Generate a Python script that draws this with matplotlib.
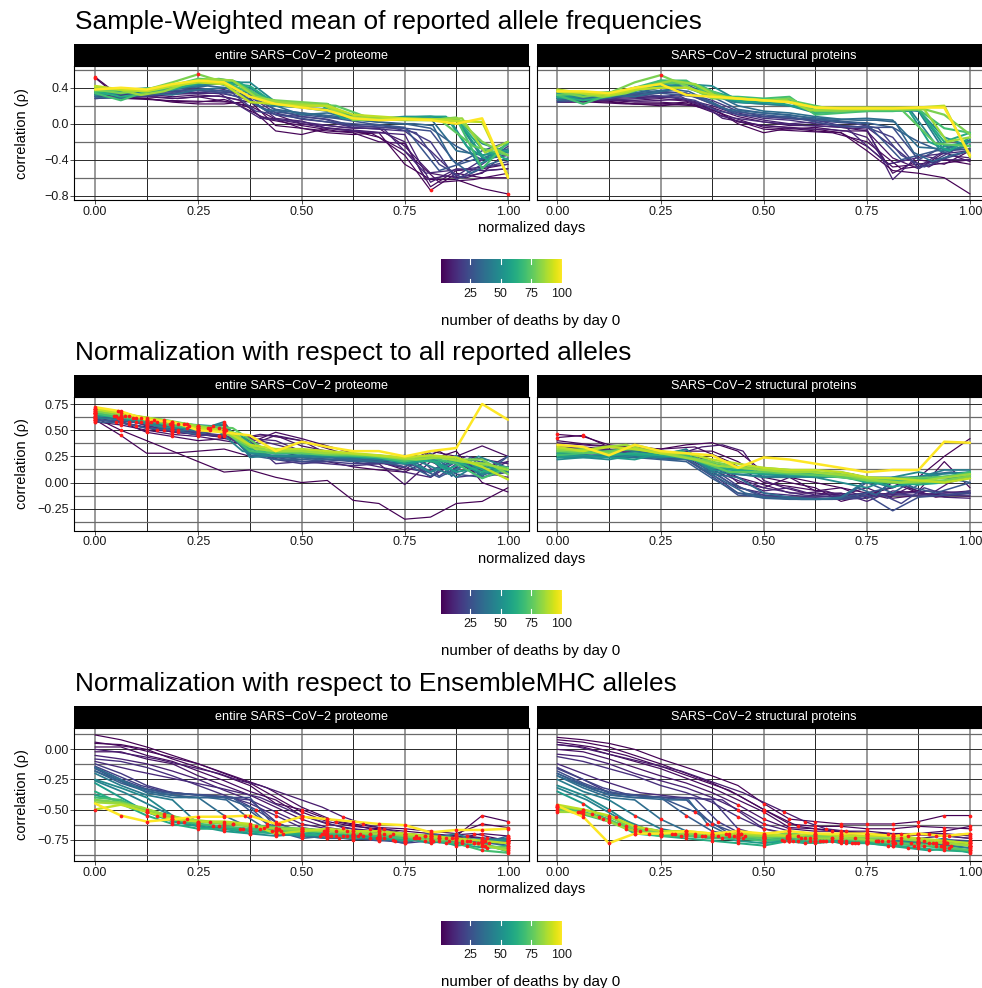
import numpy as np
import matplotlib
matplotlib.use("Agg")
import matplotlib.pyplot as plt
from matplotlib.colors import Normalize
from matplotlib.cm import ScalarMappable

plt.rcParams['font.family'] = ['Liberation Sans', 'DejaVu Sans']

# ---------------------------------------------------------------- data
# one entry per country: deaths by day 0; every country's series runs from its
# day 0 to its last day, so normalized days = day / last day
deaths_day0 = [1, 2, 4, 6, 10, 14, 18, 24, 30, 36, 42, 48, 55, 62, 70, 80, 90, 100,
               3, 8, 12, 20, 27, 33, 45, 58, 75, 85]

# Sample-weighted mean of reported allele frequencies
sw_proteome = [
    [0.52, 0.30, 0.28, 0.24, 0.22, 0.22, 0.25, -0.02, -0.05, -0.10, -0.12, -0.10, -0.45, -0.62, -0.62, -0.72, -0.78],
    [0.51, 0.28, 0.28, 0.25, 0.24, 0.27, 0.18, -0.08, -0.12, -0.05, -0.08, -0.15, -0.35, -0.74, -0.55, -0.60, -0.60],
    [0.32, 0.30, 0.30, 0.28, 0.30, 0.25, 0.20, 0.05, -0.05, -0.08, -0.10, -0.20, -0.22, -0.70, -0.52, -0.50, -0.45],
    [0.36, 0.34, 0.33, 0.30, 0.32, 0.30, 0.24, 0.10, 0.00, -0.02, -0.05, -0.05, -0.25, -0.55, -0.60, -0.55, -0.30],
    [0.30, 0.32, 0.34, 0.33, 0.35, 0.33, 0.28, 0.06, 0.03, -0.05, -0.08, -0.10, -0.12, -0.65, -0.50, -0.52, -0.50],
    [0.40, 0.36, 0.35, 0.36, 0.34, 0.38, 0.30, 0.12, 0.05, 0.02, -0.04, -0.06, -0.08, -0.30, -0.58, -0.40, -0.35],
    [0.34, 0.33, 0.37, 0.35, 0.40, 0.36, 0.32, 0.15, 0.08, 0.05, -0.02, -0.04, -0.05, -0.20, -0.62, -0.45, -0.25],
    [0.28, 0.30, 0.31, 0.34, 0.37, 0.34, 0.26, 0.10, 0.06, 0.02, 0.00, -0.02, -0.05, -0.08, -0.45, -0.30, -0.20],
    [0.35, 0.36, 0.33, 0.38, 0.42, 0.45, 0.30, 0.16, 0.12, 0.08, 0.05, 0.02, 0.00, -0.05, -0.25, -0.40, -0.22],
    [0.30, 0.28, 0.34, 0.32, 0.38, 0.40, 0.34, 0.20, 0.10, 0.12, 0.06, 0.04, 0.05, 0.06, -0.30, -0.35, -0.28],
    [0.38, 0.36, 0.38, 0.40, 0.42, 0.46, 0.40, 0.22, 0.18, 0.14, 0.08, 0.06, 0.06, 0.08, 0.05, -0.38, -0.30],
    [0.32, 0.34, 0.36, 0.40, 0.44, 0.46, 0.46, 0.24, 0.22, 0.20, 0.06, 0.06, 0.08, 0.08, 0.06, -0.22, -0.32],
    [0.40, 0.38, 0.36, 0.42, 0.46, 0.44, 0.36, 0.25, 0.20, 0.22, 0.05, 0.04, 0.06, 0.05, 0.06, -0.35, -0.30],
    [0.36, 0.30, 0.34, 0.38, 0.45, 0.46, 0.42, 0.22, 0.22, 0.20, 0.05, 0.05, 0.05, 0.05, 0.05, -0.28, -0.40],
    [0.34, 0.26, 0.36, 0.40, 0.48, 0.46, 0.35, 0.24, 0.22, 0.22, 0.06, 0.05, 0.05, 0.05, 0.06, -0.50, -0.20],
    [0.38, 0.34, 0.38, 0.46, 0.55, 0.46, 0.30, 0.26, 0.24, 0.22, 0.04, 0.05, 0.04, 0.04, 0.07, -0.20, -0.35],
    [0.42, 0.38, 0.36, 0.42, 0.46, 0.44, 0.24, 0.22, 0.20, 0.20, 0.10, 0.08, 0.06, 0.05, 0.03, 0.02, -0.58],
    [0.38, 0.40, 0.38, 0.44, 0.48, 0.46, 0.30, 0.22, 0.18, 0.15, 0.06, 0.04, 0.05, 0.04, 0.00, 0.06, -0.60],
    [0.30, 0.28, 0.26, 0.25, 0.24, 0.05, -0.02, -0.08, -0.10, -0.30, -0.65, -0.62, -0.55],
    [0.33, 0.32, 0.30, 0.30, 0.28, 0.30, 0.31, 0.26, 0.08, 0.04, 0.00, -0.04, -0.06, -0.08, -0.10, -0.20, -0.62, -0.58, -0.60, -0.52, -0.50],
    [0.28, 0.30, 0.33, 0.34, 0.06, 0.02, -0.04, -0.06, -0.55, -0.50, -0.45],
    [0.36, 0.34, 0.33, 0.35, 0.38, 0.36, 0.34, 0.14, 0.10, 0.08, 0.05, -0.02, -0.03, -0.05, -0.10, -0.45, -0.60, -0.48, -0.42],
    [0.32, 0.34, 0.36, 0.38, 0.36, 0.14, 0.10, 0.06, 0.00, -0.04, -0.52, -0.40, -0.35],
    [0.34, 0.33, 0.34, 0.36, 0.38, 0.40, 0.42, 0.40, 0.30, 0.16, 0.14, 0.12, 0.10, 0.08, 0.04, 0.02, 0.00, 0.00, -0.02, -0.40, -0.55, -0.45, -0.38],
    [0.36, 0.38, 0.40, 0.42, 0.46, 0.38, 0.20, 0.18, 0.16, 0.06, 0.06, 0.05, 0.06, -0.45, -0.30],
    [0.34, 0.36, 0.38, 0.40, 0.44, 0.48, 0.50, 0.46, 0.30, 0.22, 0.22, 0.20, 0.06, 0.06, 0.06, 0.07, 0.08, 0.08, -0.25, -0.40, -0.22],
    [0.36, 0.38, 0.40, 0.50, 0.48, 0.26, 0.22, 0.20, 0.06, 0.05, 0.05, -0.25, -0.35],
    [0.40, 0.38, 0.32, 0.36, 0.45, 0.50, 0.48, 0.30, 0.24, 0.22, 0.20, 0.08, 0.06, 0.05, 0.05, 0.05, 0.06, -0.32, -0.20],
]
sw_structural = [
    [0.28, 0.26, 0.25, 0.22, 0.20, 0.22, 0.18, 0.00, -0.10, -0.05, -0.08, -0.10, -0.30, -0.52, -0.55, -0.60, -0.78],
    [0.24, 0.25, 0.24, 0.22, 0.22, 0.24, 0.16, 0.02, -0.02, -0.04, -0.06, -0.10, -0.25, -0.48, -0.45, -0.40, -0.45],
    [0.30, 0.28, 0.26, 0.24, 0.24, 0.22, 0.15, 0.05, -0.04, -0.06, -0.04, -0.08, -0.08, -0.55, -0.40, -0.45, -0.30],
    [0.32, 0.28, 0.27, 0.26, 0.28, 0.25, 0.18, 0.08, 0.02, -0.02, -0.02, -0.04, -0.08, -0.38, -0.50, -0.32, -0.42],
    [0.26, 0.27, 0.28, 0.29, 0.30, 0.27, 0.20, 0.10, 0.04, 0.00, 0.02, -0.04, -0.06, -0.62, -0.35, -0.40, -0.40],
    [0.34, 0.30, 0.30, 0.31, 0.30, 0.33, 0.22, 0.12, 0.06, 0.04, 0.00, -0.02, -0.04, -0.25, -0.48, -0.30, -0.28],
    [0.28, 0.30, 0.32, 0.30, 0.35, 0.34, 0.26, 0.14, 0.08, 0.06, 0.04, -0.02, -0.04, -0.15, -0.50, -0.35, -0.20],
    [0.24, 0.26, 0.28, 0.33, 0.36, 0.34, 0.24, 0.10, 0.08, 0.08, 0.02, -0.03, -0.04, -0.04, -0.40, -0.25, -0.30],
    [0.30, 0.32, 0.30, 0.34, 0.40, 0.44, 0.30, 0.16, 0.12, 0.10, 0.05, 0.02, 0.01, -0.04, -0.20, -0.32, -0.24],
    [0.26, 0.28, 0.32, 0.30, 0.36, 0.40, 0.34, 0.20, 0.14, 0.12, 0.08, 0.05, 0.06, 0.04, -0.26, -0.28, -0.18],
    [0.32, 0.30, 0.34, 0.40, 0.44, 0.46, 0.34, 0.24, 0.22, 0.20, 0.12, 0.14, 0.14, 0.16, 0.14, -0.30, -0.24],
    [0.28, 0.30, 0.33, 0.38, 0.42, 0.44, 0.42, 0.26, 0.24, 0.24, 0.14, 0.15, 0.16, 0.18, 0.15, -0.15, -0.25],
    [0.34, 0.32, 0.30, 0.40, 0.42, 0.40, 0.30, 0.26, 0.24, 0.28, 0.15, 0.16, 0.16, 0.16, 0.16, -0.25, -0.20],
    [0.30, 0.26, 0.30, 0.36, 0.48, 0.46, 0.36, 0.28, 0.26, 0.26, 0.12, 0.14, 0.14, 0.16, 0.15, -0.20, -0.10],
    [0.32, 0.22, 0.32, 0.40, 0.48, 0.48, 0.30, 0.30, 0.28, 0.30, 0.10, 0.12, 0.14, 0.14, 0.16, -0.05, -0.10],
    [0.36, 0.30, 0.34, 0.46, 0.54, 0.42, 0.28, 0.28, 0.26, 0.28, 0.14, 0.14, 0.16, 0.16, 0.18, 0.10, -0.12],
    [0.38, 0.34, 0.32, 0.38, 0.40, 0.40, 0.32, 0.28, 0.26, 0.24, 0.18, 0.18, 0.18, 0.18, 0.18, 0.20, -0.37],
    [0.36, 0.36, 0.34, 0.40, 0.44, 0.32, 0.30, 0.28, 0.26, 0.24, 0.18, 0.17, 0.17, 0.17, 0.18, 0.18, -0.35],
    [0.24, 0.24, 0.22, 0.22, 0.20, 0.06, -0.06, -0.08, -0.10, -0.20, -0.50, -0.45, -0.40],
    [0.28, 0.27, 0.26, 0.26, 0.25, 0.26, 0.27, 0.22, 0.06, 0.02, -0.02, -0.04, -0.06, -0.06, -0.08, -0.15, -0.45, -0.40, -0.48, -0.35, -0.38],
    [0.25, 0.26, 0.28, 0.30, 0.08, 0.02, -0.02, -0.04, -0.45, -0.35, -0.30],
    [0.30, 0.28, 0.28, 0.30, 0.32, 0.30, 0.26, 0.14, 0.10, 0.08, 0.06, 0.04, 0.02, 0.00, -0.05, -0.35, -0.48, -0.38, -0.30],
    [0.28, 0.30, 0.32, 0.34, 0.30, 0.14, 0.10, 0.06, 0.04, 0.00, -0.40, -0.30, -0.28],
    [0.28, 0.29, 0.30, 0.32, 0.34, 0.36, 0.38, 0.36, 0.26, 0.16, 0.14, 0.12, 0.10, 0.08, 0.06, 0.05, 0.04, 0.04, 0.02, -0.32, -0.42, -0.35, -0.30],
    [0.30, 0.32, 0.34, 0.38, 0.42, 0.36, 0.24, 0.22, 0.20, 0.14, 0.14, 0.15, 0.14, -0.30, -0.20],
    [0.30, 0.32, 0.34, 0.36, 0.40, 0.44, 0.46, 0.42, 0.30, 0.24, 0.24, 0.22, 0.16, 0.15, 0.16, 0.16, 0.16, 0.16, -0.20, -0.30, -0.15],
    [0.32, 0.34, 0.36, 0.46, 0.44, 0.28, 0.26, 0.24, 0.16, 0.15, 0.16, -0.22, -0.25],
    [0.36, 0.34, 0.30, 0.34, 0.42, 0.48, 0.44, 0.30, 0.28, 0.26, 0.26, 0.15, 0.16, 0.16, 0.17, 0.16, 0.16, -0.20, -0.15],
]

# Normalization with respect to all reported alleles
all_proteome = [
    [0.62, 0.50, 0.40, 0.30, 0.20, 0.10, 0.12, 0.05, 0.00, 0.02, -0.17, -0.20, -0.35, -0.33, -0.20, -0.18, -0.05],
    [0.60, 0.45, 0.28, 0.28, 0.30, 0.32, 0.25, 0.30, 0.25, 0.20, 0.15, 0.12, 0.10, 0.22, 0.30, 0.00, -0.09],
    [0.66, 0.58, 0.48, 0.44, 0.40, 0.42, 0.38, 0.48, 0.42, 0.35, 0.28, 0.20, 0.12, 0.30, 0.25, 0.35, 0.25],
    [0.58, 0.55, 0.50, 0.46, 0.44, 0.40, 0.36, 0.45, 0.35, 0.30, 0.22, 0.18, -0.02, 0.20, 0.10, 0.15, 0.20],
    [0.64, 0.60, 0.55, 0.48, 0.46, 0.44, 0.42, 0.40, 0.30, 0.28, 0.20, 0.15, 0.10, 0.05, 0.25, 0.10, 0.05],
    [0.68, 0.62, 0.54, 0.50, 0.48, 0.45, 0.40, 0.18, 0.20, 0.18, 0.16, 0.18, 0.25, 0.05, 0.20, 0.12, 0.25],
    [0.60, 0.58, 0.52, 0.50, 0.45, 0.46, 0.30, 0.22, 0.18, 0.20, 0.18, 0.18, 0.20, 0.25, 0.05, 0.08, 0.15],
    [0.62, 0.60, 0.56, 0.52, 0.48, 0.50, 0.28, 0.24, 0.20, 0.22, 0.20, 0.20, 0.15, 0.28, 0.08, 0.05, 0.10],
    [0.58, 0.57, 0.52, 0.50, 0.46, 0.52, 0.26, 0.22, 0.22, 0.24, 0.22, 0.20, 0.18, 0.06, 0.25, 0.06, 0.25],
    [0.65, 0.62, 0.56, 0.50, 0.50, 0.55, 0.26, 0.25, 0.24, 0.25, 0.22, 0.20, 0.26, 0.10, 0.26, 0.05, 0.12],
    [0.62, 0.60, 0.58, 0.54, 0.50, 0.58, 0.24, 0.26, 0.25, 0.24, 0.24, 0.22, 0.20, 0.25, 0.05, 0.20, 0.10],
    [0.66, 0.63, 0.56, 0.52, 0.52, 0.56, 0.28, 0.25, 0.26, 0.26, 0.24, 0.25, 0.22, 0.10, 0.20, 0.08, 0.14],
    [0.64, 0.62, 0.58, 0.55, 0.52, 0.50, 0.30, 0.28, 0.28, 0.26, 0.26, 0.24, 0.18, 0.22, 0.10, 0.15, 0.12],
    [0.70, 0.64, 0.58, 0.56, 0.54, 0.52, 0.32, 0.30, 0.30, 0.28, 0.26, 0.25, 0.22, 0.20, 0.20, 0.10, 0.14],
    [0.66, 0.62, 0.60, 0.54, 0.52, 0.50, 0.30, 0.28, 0.30, 0.28, 0.26, 0.24, 0.20, 0.24, 0.18, 0.04, 0.14],
    [0.68, 0.64, 0.60, 0.56, 0.54, 0.48, 0.34, 0.30, 0.30, 0.28, 0.27, 0.26, 0.22, 0.25, 0.22, 0.22, 0.08],
    [0.70, 0.66, 0.62, 0.58, 0.52, 0.50, 0.36, 0.32, 0.32, 0.30, 0.28, 0.26, 0.24, 0.26, 0.24, 0.15, 0.03],
    [0.72, 0.68, 0.60, 0.58, 0.50, 0.48, 0.45, 0.30, 0.39, 0.34, 0.30, 0.30, 0.25, 0.30, 0.33, 0.75, 0.60],
    [0.62, 0.56, 0.50, 0.46, 0.42, 0.45, 0.40, 0.30, 0.22, 0.15, 0.30, 0.10, 0.15],
    [0.60, 0.58, 0.54, 0.50, 0.48, 0.46, 0.44, 0.42, 0.46, 0.44, 0.40, 0.30, 0.26, 0.22, 0.20, 0.18, 0.28, 0.08, 0.22, 0.10, 0.20],
    [0.66, 0.58, 0.50, 0.44, 0.40, 0.30, 0.22, 0.18, 0.10, 0.25, 0.18],
    [0.64, 0.62, 0.58, 0.55, 0.52, 0.50, 0.48, 0.30, 0.22, 0.20, 0.20, 0.22, 0.20, 0.18, 0.26, 0.06, 0.22, 0.08, 0.12],
    [0.60, 0.58, 0.54, 0.50, 0.48, 0.26, 0.22, 0.24, 0.22, 0.20, 0.05, 0.22, 0.10],
    [0.66, 0.64, 0.62, 0.58, 0.56, 0.54, 0.52, 0.50, 0.30, 0.26, 0.24, 0.24, 0.22, 0.22, 0.20, 0.20, 0.18, 0.18, 0.26, 0.06, 0.24, 0.08, 0.15],
    [0.68, 0.64, 0.60, 0.56, 0.54, 0.30, 0.26, 0.26, 0.25, 0.24, 0.22, 0.20, 0.08, 0.25, 0.14],
    [0.66, 0.64, 0.62, 0.58, 0.56, 0.54, 0.52, 0.46, 0.30, 0.28, 0.28, 0.26, 0.26, 0.24, 0.24, 0.20, 0.25, 0.12, 0.20, 0.10, 0.12],
    [0.70, 0.64, 0.60, 0.54, 0.52, 0.30, 0.28, 0.26, 0.26, 0.22, 0.24, 0.18, 0.14],
    [0.70, 0.68, 0.62, 0.58, 0.56, 0.52, 0.48, 0.32, 0.30, 0.30, 0.28, 0.28, 0.26, 0.24, 0.22, 0.24, 0.20, 0.18, 0.12],
]
all_structural = [
    [0.46, 0.44, 0.36, 0.34, 0.32, 0.36, 0.38, 0.30, 0.10, 0.05, 0.00, -0.05, -0.10, -0.05, 0.05, 0.25, 0.42],
    [0.43, 0.45, 0.34, 0.30, 0.28, 0.30, 0.30, 0.20, 0.05, 0.00, -0.05, -0.18, -0.12, -0.10, -0.08, 0.20, -0.05],
    [0.38, 0.36, 0.34, 0.32, 0.30, 0.28, 0.20, 0.00, -0.05, 0.05, -0.08, -0.05, -0.15, 0.00, -0.10, -0.12, -0.13],
    [0.36, 0.34, 0.32, 0.30, 0.28, 0.30, 0.18, 0.05, -0.02, -0.10, -0.10, -0.12, -0.05, -0.15, -0.12, -0.10, -0.08],
    [0.34, 0.32, 0.30, 0.28, 0.30, 0.26, 0.12, 0.02, -0.08, -0.05, -0.12, -0.10, -0.18, -0.08, -0.10, -0.14, -0.15],
    [0.32, 0.30, 0.30, 0.28, 0.26, 0.24, 0.10, -0.05, -0.10, -0.12, -0.14, -0.12, -0.10, -0.12, -0.12, -0.10, -0.10],
    [0.30, 0.30, 0.28, 0.26, 0.24, 0.22, 0.08, -0.10, -0.12, -0.14, -0.15, -0.16, -0.15, -0.10, -0.13, -0.12, -0.12],
    [0.28, 0.28, 0.27, 0.26, 0.24, 0.22, 0.06, -0.12, -0.14, -0.15, -0.16, -0.16, -0.12, -0.27, -0.14, -0.12, -0.10],
    [0.26, 0.26, 0.26, 0.24, 0.22, 0.20, 0.04, -0.10, -0.15, -0.16, -0.16, -0.15, 0.00, -0.10, 0.05, 0.05, 0.00],
    [0.24, 0.25, 0.26, 0.24, 0.24, 0.28, 0.08, 0.05, -0.10, -0.14, -0.16, -0.14, 0.02, -0.05, 0.05, 0.05, 0.05],
    [0.26, 0.26, 0.24, 0.30, 0.26, 0.32, 0.10, 0.08, 0.05, 0.05, 0.06, 0.10, 0.05, 0.05, 0.05, 0.12, 0.12],
    [0.22, 0.24, 0.22, 0.26, 0.24, 0.26, 0.12, 0.10, 0.08, 0.06, 0.05, 0.00, -0.05, 0.05, 0.10, 0.05, 0.05],
    [0.24, 0.26, 0.24, 0.22, 0.28, 0.26, 0.14, 0.12, 0.10, 0.08, 0.06, 0.05, 0.02, -0.04, 0.00, 0.02, 0.08],
    [0.28, 0.30, 0.26, 0.28, 0.26, 0.24, 0.16, 0.12, 0.10, 0.10, 0.08, 0.06, 0.00, 0.00, -0.02, 0.00, 0.06],
    [0.26, 0.28, 0.30, 0.32, 0.28, 0.26, 0.18, 0.14, 0.12, 0.12, 0.10, 0.06, 0.05, 0.02, 0.02, 0.05, 0.10],
    [0.30, 0.32, 0.28, 0.36, 0.30, 0.24, 0.20, 0.15, 0.14, 0.12, 0.10, 0.08, 0.02, 0.00, 0.00, 0.02, 0.06],
    [0.34, 0.30, 0.34, 0.32, 0.28, 0.28, 0.22, 0.18, 0.14, 0.12, 0.12, 0.10, 0.05, 0.04, 0.02, 0.00, 0.04],
    [0.36, 0.34, 0.26, 0.36, 0.30, 0.28, 0.26, 0.14, 0.24, 0.22, 0.18, 0.14, 0.10, 0.12, 0.12, 0.39, 0.38],
    [0.40, 0.36, 0.34, 0.32, 0.34, 0.20, 0.00, -0.05, -0.10, -0.12, -0.02, -0.14, -0.10],
    [0.36, 0.34, 0.32, 0.30, 0.30, 0.28, 0.28, 0.34, 0.36, 0.30, 0.02, -0.05, -0.10, -0.08, -0.14, -0.10, -0.15, -0.05, -0.12, 0.00, 0.05],
    [0.34, 0.32, 0.30, 0.28, 0.10, -0.05, -0.12, -0.14, -0.12, -0.08, -0.10],
    [0.30, 0.28, 0.28, 0.27, 0.26, 0.25, 0.22, 0.10, -0.05, -0.12, -0.14, -0.15, -0.15, -0.15, -0.10, -0.20, -0.05, -0.12, -0.08],
    [0.28, 0.26, 0.26, 0.24, 0.22, 0.00, -0.14, -0.16, -0.16, -0.10, -0.02, -0.10, 0.00],
    [0.26, 0.26, 0.25, 0.24, 0.24, 0.24, 0.22, 0.22, 0.10, 0.00, -0.10, -0.14, -0.15, -0.16, -0.16, -0.15, -0.05, -0.12, 0.05, -0.05, 0.08, 0.10, 0.08],
    [0.24, 0.24, 0.26, 0.26, 0.24, 0.20, 0.08, 0.06, 0.06, 0.05, 0.08, 0.00, 0.05, 0.08, 0.10],
    [0.26, 0.28, 0.30, 0.28, 0.26, 0.28, 0.30, 0.24, 0.14, 0.10, 0.08, 0.08, 0.07, 0.06, 0.05, 0.02, 0.00, 0.02, 0.04, 0.06, 0.10],
    [0.30, 0.28, 0.32, 0.30, 0.22, 0.10, 0.10, 0.08, 0.06, 0.02, 0.04, 0.05, 0.08],
    [0.32, 0.30, 0.34, 0.36, 0.30, 0.26, 0.22, 0.16, 0.14, 0.12, 0.10, 0.10, 0.08, 0.06, 0.02, 0.00, 0.02, 0.05, 0.08],
]

# Normalization with respect to EnsembleMHC alleles
emhc_proteome = [
    [0.12, 0.08, 0.02, -0.05, -0.12, -0.20, -0.28, -0.40, -0.52, -0.60, -0.64, -0.66, -0.68, -0.70, -0.72, -0.55, -0.60],
    [0.05, 0.04, 0.00, -0.08, -0.15, -0.22, -0.30, -0.45, -0.50, -0.58, -0.62, -0.65, -0.66, -0.68, -0.70, -0.62, -0.65],
    [0.02, 0.02, -0.05, -0.10, -0.18, -0.26, -0.35, -0.42, -0.55, -0.62, -0.66, -0.68, -0.70, -0.72, -0.74, -0.70, -0.72],
    [-0.02, -0.02, -0.08, -0.12, -0.22, -0.30, -0.38, -0.48, -0.58, -0.65, -0.68, -0.70, -0.72, -0.74, -0.72, -0.74, -0.75],
    [-0.05, -0.08, -0.12, -0.18, -0.25, -0.34, -0.42, -0.52, -0.62, -0.66, -0.70, -0.72, -0.74, -0.70, -0.75, -0.76, -0.78],
    [-0.08, -0.10, -0.15, -0.22, -0.30, -0.38, -0.45, -0.55, -0.65, -0.68, -0.72, -0.74, -0.76, -0.75, -0.78, -0.76, -0.80],
    [-0.12, -0.20, -0.30, -0.36, -0.38, -0.40, -0.42, -0.60, -0.70, -0.72, -0.74, -0.75, -0.78, -0.76, -0.74, -0.78, -0.76],
    [-0.15, -0.25, -0.33, -0.36, -0.38, -0.40, -0.40, -0.65, -0.72, -0.74, -0.74, -0.76, -0.76, -0.74, -0.78, -0.76, -0.74],
    [-0.18, -0.28, -0.35, -0.38, -0.40, -0.40, -0.48, -0.68, -0.74, -0.72, -0.75, -0.74, -0.78, -0.72, -0.76, -0.78, -0.72],
    [-0.15, -0.25, -0.36, -0.40, -0.40, -0.55, -0.65, -0.70, -0.72, -0.74, -0.72, -0.74, -0.74, -0.70, -0.74, -0.75, -0.78],
    [-0.20, -0.30, -0.38, -0.42, -0.62, -0.66, -0.68, -0.70, -0.72, -0.72, -0.70, -0.73, -0.74, -0.75, -0.70, -0.78, -0.75],
    [-0.25, -0.32, -0.40, -0.55, -0.64, -0.66, -0.70, -0.72, -0.70, -0.72, -0.72, -0.74, -0.76, -0.72, -0.78, -0.74, -0.76],
    [-0.28, -0.40, -0.52, -0.60, -0.64, -0.68, -0.70, -0.68, -0.72, -0.70, -0.72, -0.75, -0.74, -0.78, -0.74, -0.80, -0.82],
    [-0.35, -0.45, -0.55, -0.62, -0.66, -0.66, -0.68, -0.70, -0.70, -0.72, -0.74, -0.72, -0.76, -0.74, -0.80, -0.78, -0.85],
    [-0.40, -0.42, -0.52, -0.58, -0.62, -0.64, -0.66, -0.68, -0.66, -0.70, -0.70, -0.72, -0.74, -0.75, -0.78, -0.84, -0.86],
    [-0.42, -0.44, -0.50, -0.56, -0.60, -0.62, -0.64, -0.66, -0.68, -0.68, -0.70, -0.70, -0.72, -0.76, -0.74, -0.80, -0.82],
    [-0.50, -0.46, -0.52, -0.58, -0.60, -0.60, -0.62, -0.70, -0.68, -0.66, -0.68, -0.68, -0.70, -0.72, -0.74, -0.76, -0.78],
    [-0.45, -0.55, -0.60, -0.58, -0.56, -0.56, -0.55, -0.62, -0.56, -0.58, -0.60, -0.62, -0.63, -0.69, -0.67, -0.67, -0.66],
    [0.06, 0.02, -0.05, -0.12, -0.22, -0.32, -0.48, -0.60, -0.66, -0.70, -0.72, -0.70, -0.76],
    [0.00, -0.02, -0.05, -0.08, -0.12, -0.16, -0.20, -0.26, -0.30, -0.36, -0.42, -0.48, -0.56, -0.62, -0.66, -0.70, -0.72, -0.74, -0.72, -0.74, -0.76],
    [-0.10, -0.18, -0.25, -0.32, -0.40, -0.55, -0.65, -0.70, -0.72, -0.76, -0.74],
    [-0.14, -0.22, -0.30, -0.35, -0.37, -0.38, -0.40, -0.50, -0.62, -0.68, -0.70, -0.72, -0.74, -0.75, -0.74, -0.76, -0.78, -0.76, -0.74],
    [-0.16, -0.30, -0.36, -0.38, -0.40, -0.62, -0.70, -0.72, -0.74, -0.76, -0.74, -0.78, -0.76],
    [-0.18, -0.24, -0.30, -0.35, -0.38, -0.40, -0.40, -0.42, -0.55, -0.65, -0.70, -0.72, -0.72, -0.74, -0.72, -0.74, -0.76, -0.74, -0.76, -0.74, -0.76, -0.78, -0.80],
    [-0.26, -0.36, -0.48, -0.60, -0.64, -0.66, -0.68, -0.70, -0.72, -0.70, -0.72, -0.74, -0.76, -0.78, -0.74],
    [-0.38, -0.42, -0.48, -0.55, -0.60, -0.62, -0.64, -0.66, -0.66, -0.68, -0.68, -0.70, -0.72, -0.72, -0.74, -0.74, -0.76, -0.78, -0.80, -0.82, -0.80],
    [-0.42, -0.46, -0.55, -0.60, -0.62, -0.64, -0.66, -0.68, -0.70, -0.72, -0.74, -0.78, -0.84],
    [-0.44, -0.45, -0.48, -0.54, -0.58, -0.60, -0.62, -0.64, -0.66, -0.66, -0.68, -0.68, -0.70, -0.70, -0.72, -0.74, -0.76, -0.80, -0.84],
]
emhc_structural = [
    [0.10, 0.08, 0.05, 0.00, -0.08, -0.15, -0.22, -0.30, -0.45, -0.58, -0.60, -0.62, -0.62, -0.62, -0.60, -0.55, -0.55],
    [0.08, 0.06, 0.02, -0.05, -0.12, -0.20, -0.28, -0.38, -0.50, -0.62, -0.64, -0.64, -0.66, -0.66, -0.64, -0.65, -0.66],
    [0.04, 0.02, -0.04, -0.10, -0.16, -0.24, -0.32, -0.42, -0.52, -0.65, -0.66, -0.68, -0.68, -0.70, -0.70, -0.68, -0.64],
    [0.00, -0.02, -0.08, -0.15, -0.22, -0.28, -0.36, -0.46, -0.58, -0.66, -0.68, -0.68, -0.70, -0.72, -0.70, -0.70, -0.72],
    [-0.04, -0.06, -0.12, -0.20, -0.26, -0.32, -0.40, -0.50, -0.62, -0.68, -0.70, -0.70, -0.72, -0.72, -0.74, -0.72, -0.74],
    [-0.06, -0.10, -0.16, -0.22, -0.30, -0.36, -0.44, -0.56, -0.66, -0.70, -0.72, -0.72, -0.74, -0.74, -0.76, -0.75, -0.76],
    [-0.15, -0.25, -0.36, -0.38, -0.40, -0.40, -0.42, -0.66, -0.72, -0.74, -0.76, -0.74, -0.76, -0.78, -0.76, -0.78, -0.78],
    [-0.18, -0.28, -0.36, -0.38, -0.40, -0.42, -0.62, -0.70, -0.74, -0.76, -0.74, -0.76, -0.74, -0.76, -0.78, -0.76, -0.80],
    [-0.20, -0.30, -0.38, -0.40, -0.40, -0.55, -0.68, -0.72, -0.76, -0.74, -0.76, -0.75, -0.77, -0.75, -0.78, -0.80, -0.78],
    [-0.22, -0.32, -0.40, -0.42, -0.58, -0.68, -0.72, -0.74, -0.74, -0.76, -0.74, -0.76, -0.78, -0.76, -0.78, -0.76, -0.78],
    [-0.25, -0.35, -0.42, -0.55, -0.66, -0.70, -0.72, -0.72, -0.74, -0.72, -0.74, -0.76, -0.76, -0.78, -0.74, -0.78, -0.76],
    [-0.30, -0.38, -0.50, -0.64, -0.68, -0.70, -0.70, -0.74, -0.72, -0.74, -0.76, -0.74, -0.78, -0.76, -0.78, -0.74, -0.80],
    [-0.35, -0.45, -0.60, -0.66, -0.70, -0.70, -0.72, -0.76, -0.78, -0.76, -0.74, -0.78, -0.76, -0.80, -0.78, -0.82, -0.84],
    [-0.48, -0.52, -0.58, -0.70, -0.72, -0.74, -0.76, -0.78, -0.80, -0.76, -0.78, -0.76, -0.78, -0.80, -0.82, -0.84, -0.85],
    [-0.50, -0.54, -0.60, -0.68, -0.72, -0.72, -0.74, -0.74, -0.76, -0.74, -0.76, -0.74, -0.76, -0.78, -0.80, -0.82, -0.84],
    [-0.48, -0.50, -0.56, -0.66, -0.70, -0.70, -0.70, -0.72, -0.72, -0.70, -0.72, -0.72, -0.74, -0.74, -0.76, -0.78, -0.80],
    [-0.46, -0.50, -0.55, -0.64, -0.68, -0.68, -0.70, -0.70, -0.70, -0.72, -0.70, -0.72, -0.72, -0.72, -0.74, -0.76, -0.78],
    [-0.47, -0.56, -0.78, -0.70, -0.70, -0.68, -0.70, -0.68, -0.70, -0.68, -0.70, -0.70, -0.70, -0.72, -0.70, -0.72, -0.70],
    [0.06, 0.02, -0.05, -0.14, -0.24, -0.34, -0.50, -0.64, -0.68, -0.70, -0.70, -0.72, -0.70],
    [0.04, 0.02, -0.02, -0.06, -0.10, -0.14, -0.18, -0.24, -0.30, -0.36, -0.44, -0.52, -0.60, -0.66, -0.68, -0.70, -0.70, -0.72, -0.70, -0.72, -0.74],
    [-0.12, -0.25, -0.36, -0.40, -0.42, -0.66, -0.74, -0.76, -0.76, -0.78, -0.76],
    [-0.16, -0.24, -0.32, -0.37, -0.39, -0.40, -0.41, -0.60, -0.70, -0.74, -0.74, -0.76, -0.76, -0.78, -0.76, -0.78, -0.80, -0.78, -0.80],
    [-0.20, -0.32, -0.38, -0.40, -0.52, -0.70, -0.74, -0.76, -0.76, -0.78, -0.76, -0.78, -0.80],
    [-0.22, -0.28, -0.34, -0.38, -0.40, -0.41, -0.42, -0.42, -0.62, -0.70, -0.72, -0.74, -0.75, -0.74, -0.76, -0.76, -0.78, -0.76, -0.78, -0.80, -0.78, -0.80, -0.82],
    [-0.32, -0.42, -0.56, -0.66, -0.70, -0.72, -0.72, -0.74, -0.76, -0.76, -0.78, -0.76, -0.78, -0.80, -0.82],
    [-0.48, -0.52, -0.56, -0.62, -0.68, -0.70, -0.72, -0.72, -0.74, -0.74, -0.76, -0.76, -0.78, -0.76, -0.78, -0.78, -0.80, -0.82, -0.84, -0.82, -0.86],
    [-0.50, -0.54, -0.64, -0.70, -0.72, -0.72, -0.74, -0.72, -0.74, -0.76, -0.78, -0.80, -0.84],
    [-0.52, -0.52, -0.58, -0.66, -0.70, -0.70, -0.70, -0.72, -0.70, -0.72, -0.72, -0.74, -0.74, -0.74, -0.76, -0.74, -0.76, -0.78, -0.80],
]

row_titles = [
    "Sample-Weighted mean of reported allele frequencies",
    "Normalization with respect to all reported alleles",
    "Normalization with respect to EnsembleMHC alleles",
]
facet_labels = ["entire SARS\u2212CoV\u22122 proteome", "SARS\u2212CoV\u22122 structural proteins"]
row_series = [(sw_proteome, sw_structural),
              (all_proteome, all_structural),
              (emhc_proteome, emhc_structural)]

# y axis per row: limits, major ticks (with labels) and minor grid lines
row_ylim = [(-0.847, 0.636), (-0.458, 0.817), (-0.928, 0.182)]
row_yticks = [[0.4, 0.0, -0.4, -0.8],
              [0.75, 0.5, 0.25, 0.0, -0.25],
              [0.0, -0.25, -0.5, -0.75]]
row_yticklabels = [["0.4", "0.0", "\u22120.4", "\u22120.8"],
                   ["0.75", "0.50", "0.25", "0.00", "\u22120.25"],
                   ["0.00", "\u22120.25", "\u22120.50", "\u22120.75"]]
row_yminor = [[0.6, 0.2, -0.2, -0.6],
              [0.625, 0.375, 0.125, -0.125, -0.375],
              [0.125, -0.125, -0.375, -0.625, -0.875]]
x_ticks = [0.0, 0.25, 0.5, 0.75, 1.0]
x_ticklabels = ["0.00", "0.25", "0.50", "0.75", "1.00"]
x_minor = [0.125, 0.375, 0.625, 0.875]

# significance: (upper threshold, last normalized day it applies to, lower threshold)
sig_rules = [
    [(0.51, 0.30, -0.74), (0.51, 0.30, -9.0)],
    [(0.44, 0.32, -9.0), (0.42, 0.07, -9.0)],
    [(9.0, 0.0, -0.50), (9.0, 0.0, -0.45)],
]

colorbar_ticks = [25, 50, 75, 100]
deaths_range = (1, 100)

# ---------------------------------------------------------------- layout (pixels)
W, H = 982, 988
fig = plt.figure(figsize=(W / 100, H / 100), dpi=100)
fig.patch.set_facecolor("white")

def fx(px):
    return px / W

def fy(py):
    return 1 - py / H

row_tops = [66.5, 397.0, 727.5]
panel_h = 133.5
panel_x = [(74.4, 528.6), (536.7, 990.7)]
strip_h = 22.0

cmap = plt.get_cmap("viridis")
norm = Normalize(vmin=deaths_range[0], vmax=deaths_range[1])
draw_order = np.argsort(deaths_day0, kind="stable")

for r in range(3):
    top = row_tops[r]
    fig.text(fx(75), fy(top - 44), row_titles[r], fontsize=18.9,
             ha="left", va="center", color="black")
    fig.text(fx(22), fy(top + panel_h / 2), "correlation (\u03c1)", fontsize=10.5,
             rotation=90, ha="center", va="center")
    fig.text(fx(532), fy(top + panel_h + 28), "normalized days", fontsize=10.5,
             ha="center", va="center")

    for c in range(2):
        x0, x1 = panel_x[c]
        ax = fig.add_axes([fx(x0), fy(top + panel_h), fx(x1 - x0), panel_h / H])
        ax.set_xlim(-0.05, 1.05)
        ax.set_ylim(*row_ylim[r])
        ax.set_facecolor("white")

        for v in x_ticks:
            ax.axvline(v, color="#7d7d7d", lw=1.1, zorder=0)
        for v in x_minor:
            ax.axvline(v, color="black", lw=0.6, zorder=0)
        for v in row_yticks[r]:
            ax.axhline(v, color="#2a2a2a", lw=0.7, zorder=0)
        for v in row_yminor[r]:
            ax.axhline(v, color="#6a6a6a", lw=0.9, zorder=0)

        series = row_series[r][c]
        hi, hi_xmax, lo = sig_rules[r][c]
        sx, sy = [], []
        for k, i in enumerate(draw_order):
            d = deaths_day0[i]
            vals = np.array(series[i])
            days = np.arange(len(vals)) / (len(vals) - 1)
            ax.plot(days, vals, color=cmap(norm(d)), lw=0.85 + 0.95 * d / 100,
                    zorder=2 + k * 0.01, solid_joinstyle="round",
                    solid_capstyle="round")
            mask = ((vals >= hi) & (days <= hi_xmax)) | (vals <= lo)
            sx.extend(days[mask])
            sy.extend(vals[mask])
        if sx:
            ax.scatter(sx, sy, s=7, color="#ff1a1a", linewidths=0, zorder=5)

        for s in ax.spines.values():
            s.set_color("black")
            s.set_linewidth(0.8)

        ax.set_xticks(x_ticks)
        ax.set_xticklabels(x_ticklabels)
        ax.set_yticks(row_yticks[r])
        if c == 0:
            ax.set_yticklabels(row_yticklabels[r])
            ax.tick_params(axis="y", length=2.8, width=0.6, color="#333333",
                           pad=1.2, labelsize=9, labelcolor="#1a1a1a")
        else:
            ax.tick_params(axis="y", length=0, labelleft=False)
        ax.tick_params(axis="x", length=2.8, width=0.6, color="#333333",
                       pad=1.5, labelsize=9, labelcolor="#1a1a1a")

        # facet strip
        sax = fig.add_axes([fx(x0), fy(top), fx(x1 - x0), strip_h / H])
        sax.set_facecolor("black")
        sax.set_xticks([])
        sax.set_yticks([])
        for s in sax.spines.values():
            s.set_visible(False)
        sax.text(0.5, 0.5, facet_labels[c], transform=sax.transAxes,
                 ha="center", va="center", color="white", fontsize=9.1)

    # colour bar legend
    cb_top = top + 193
    cax = fig.add_axes([fx(441), fy(cb_top + 24), fx(562 - 441), 24 / H])
    cb = fig.colorbar(ScalarMappable(norm=norm, cmap=cmap), cax=cax,
                      orientation="horizontal")
    cb.outline.set_visible(False)
    cb.set_ticks(colorbar_ticks)
    cb.set_ticklabels([str(t) for t in colorbar_ticks])
    cax.tick_params(axis="x", length=0, pad=3, labelsize=9, labelcolor="#1a1a1a")
    y0, y1 = cax.get_ylim()
    span = y1 - y0
    for t in colorbar_ticks:
        cax.plot([t, t], [y0, y0 + 0.2 * span], color="white", lw=0.8, zorder=5)
        cax.plot([t, t], [y1 - 0.2 * span, y1], color="white", lw=0.8, zorder=5)
    cax.set_ylim(y0, y1)
    fig.text(fx(441), fy(cb_top + 61), "number of deaths by day 0",
             fontsize=10.9, ha="left", va="center")

fig.savefig("out.png", dpi=100, facecolor="white")
